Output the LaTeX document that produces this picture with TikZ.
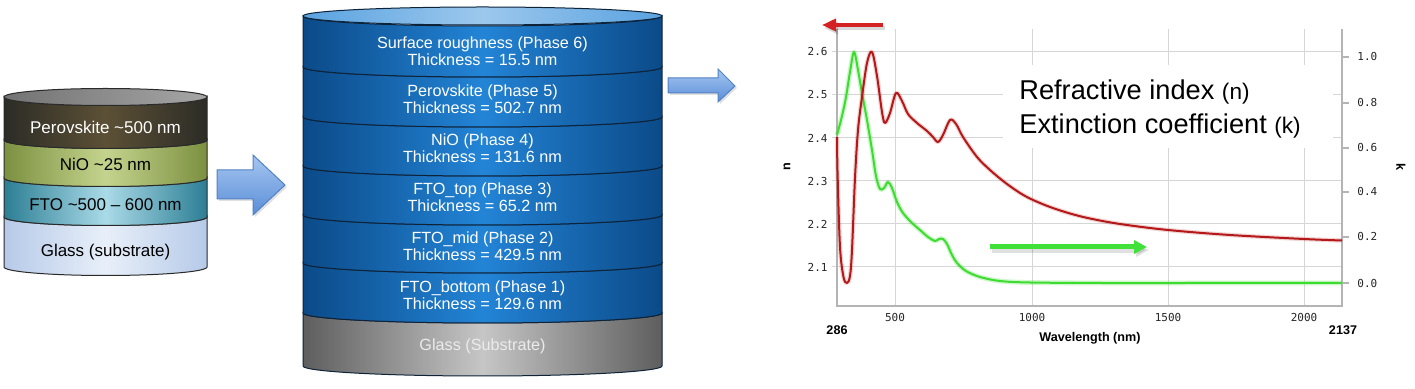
\documentclass[tikz,border=0pt]{standalone}
\usepackage{fontspec}
\setmainfont{Liberation Sans}
\newfontfamily\monof{DejaVu Sans Mono}
\usetikzlibrary{arrows.meta}
\definecolor{outlL}{HTML}{2A2A2A}
\definecolor{outlM}{HTML}{0E2238}
\definecolor{perE}{HTML}{2C2C26}
\definecolor{perC}{HTML}{5C5036}
\definecolor{nioE}{HTML}{7C9040}
\definecolor{nioC}{HTML}{C4D48E}
\definecolor{ftoE}{HTML}{2C7E94}
\definecolor{ftoC}{HTML}{AADAE8}
\definecolor{glaE}{HTML}{B6CAE8}
\definecolor{glaC}{HTML}{E8EFF9}
\definecolor{bluE}{HTML}{0B4A88}
\definecolor{bluC}{HTML}{2384D6}
\definecolor{gryE}{HTML}{5E5E5E}
\definecolor{gryC}{HTML}{C6C6C6}
\definecolor{arrT}{HTML}{A6C6F0}
\definecolor{arrB}{HTML}{5A8ED8}
\definecolor{arrO}{HTML}{5282C4}
\definecolor{gridc}{HTML}{D6D6D6}
\definecolor{axc}{HTML}{B4B4B4}
\definecolor{redc}{HTML}{B41818}
\definecolor{grnc}{HTML}{3EDC30}
\definecolor{redarr}{HTML}{D42222}
\definecolor{grnarr}{HTML}{40E23A}
\newcommand{\cyllayer}[8]{% #1 xl #2 xr #3 ytop #4 ybot #5 ry #6 edge #7 center #8 outline
  \pgfmathsetmacro\rxx{(#2-#1)/2}
  \path[left color=#6,right color=#6,middle color=#7,draw=#8,line width=0.5pt]
    (#1,#3) -- (#1,#4) arc[start angle=180,end angle=0,x radius=\rxx,y radius=#5]
    -- (#2,#3) arc[start angle=0,end angle=180,x radius=\rxx,y radius=#5] -- cycle;
}
\tikzset{
  lt/.style={font=\fontsize{8.5}{9}\selectfont,inner sep=0pt},
  mt/.style={font=\fontsize{8.1}{8.7}\selectfont,inner sep=0pt,align=center,text=white},
  blockarrow/.style={top color=arrT,bottom color=arrB,draw=arrO,line width=0.5pt},
  gridline/.style={draw=gridc,line width=0.5pt},
  axisline/.style={draw=axc,line width=0.6pt},
  ticklab/.style={font=\monof\fontsize{5.5}{6}\selectfont,inner sep=0pt,text=black!85},
  boldlab/.style={font=\bfseries\fontsize{6.3}{7}\selectfont,inner sep=0pt},
}
\begin{document}
\begin{tikzpicture}[x=0.5pt,y=-0.5pt]
\useasboundingbox[fill=white] (0,0) rectangle (1415,389);

% ---------- left cylinder ----------
\cyllayer{4}{207}{217}{267}{8.5}{glaE}{glaC}{outlL}
\cyllayer{4}{207}{178}{217}{8.5}{ftoE}{ftoC}{outlL}
\cyllayer{4}{207}{140}{178}{8.5}{nioE}{nioC}{outlL}
\cyllayer{4}{207}{97}{140}{8.5}{perE}{perC}{outlL}
\path[left color=black!55,right color=black!35,draw=outlL,line width=0.5pt]
  (105.5,97) ellipse[x radius=101.5,y radius=8.5];
\node[lt,text=white] (lper) at (105.5,127) {Perovskite \textasciitilde500 nm};
\node[lt] (lnio) at (105.5,164) {NiO \textasciitilde25 nm};
\node[lt] (lfto) at (105.5,205) {FTO \textasciitilde500 – 600 nm};
\node[lt] (lgla) at (105.5,252) {Glass (substrate)};

% ---------- arrow 1 ----------
\fill[black,opacity=0.12] (219,172) -- (255,172) -- (255,157) -- (287,187) -- (255,217) -- (255,201) -- (219,201) -- cycle;
\path[blockarrow] (217,170) -- (253,170) -- (253,155) -- (285,185) -- (253,215) -- (253,199) -- (217,199) -- cycle;

% ---------- middle cylinder ----------
\cyllayer{303}{662}{313}{366}{10}{gryE}{gryC}{outlM}
\cyllayer{303}{662}{263}{313}{10}{bluE}{bluC}{outlM}
\cyllayer{303}{662}{215}{263}{10}{bluE}{bluC}{outlM}
\cyllayer{303}{662}{166}{215}{10}{bluE}{bluC}{outlM}
\cyllayer{303}{662}{117}{166}{10}{bluE}{bluC}{outlM}
\cyllayer{303}{662}{67}{117}{10}{bluE}{bluC}{outlM}
\cyllayer{303}{662}{16}{67}{10}{bluE}{bluC}{outlM}
\path[left color=bluC!75!white,right color=bluC!75!white,middle color=bluC!45!white,draw=outlM,line width=0.5pt]
  (482.5,16) ellipse[x radius=179.5,y radius=9];
\node[mt] (m6) at (482.5,51) {Surface roughness (Phase 6)\\Thickness = 15.5 nm};
\node[mt] (m5) at (482.5,99.5) {Perovskite (Phase 5)\\Thickness = 502.7 nm};
\node[mt] (m4) at (482.5,148.5) {NiO (Phase 4)\\Thickness = 131.6 nm};
\node[mt] (m3) at (482.5,197.5) {FTO\_top (Phase 3)\\Thickness = 65.2 nm};
\node[mt] (m2) at (482.5,246.5) {FTO\_mid (Phase 2)\\Thickness = 429.5 nm};
\node[mt] (m1) at (482.5,295.5) {FTO\_bottom (Phase 1)\\Thickness = 129.6 nm};
\node[mt,text=black!8] (m0) at (482.5,346) {Glass (Substrate)};

% ---------- arrow 2 ----------
\fill[black,opacity=0.12] (670,80) -- (720,80) -- (720,71) -- (737,88) -- (720,104) -- (720,95) -- (670,95) -- cycle;
\path[blockarrow] (668,78) -- (718,78) -- (718,69) -- (735,86) -- (718,102) -- (718,93) -- (668,93) -- cycle;

% ---------- chart grid ----------
\foreach \gx in {895,1032,1168,1304} \draw[gridline] (\gx,29) -- (\gx,306);
\foreach \gy in {52,95,138,181,224,267} \draw[gridline] (832,\gy) -- (1342,\gy);
\draw[axisline] (837,29) -- (837,306) -- (1342,306) -- (1342,29);
\foreach \ky in {57,103,148,192,237,283} \draw[axisline] (1342,\ky) -- (1349,\ky);

% tick labels
\node[ticklab,anchor=east] (n26) at (828,52) {2.6};
\node[ticklab,anchor=east] (n25) at (828,95) {2.5};
\node[ticklab,anchor=east] (n24) at (828,138) {2.4};
\node[ticklab,anchor=east] (n23) at (828,181) {2.3};
\node[ticklab,anchor=east] (n22) at (828,224) {2.2};
\node[ticklab,anchor=east] (n21) at (828,267) {2.1};
\node[ticklab,anchor=west] (k10) at (1357,57) {1.0};
\node[ticklab,anchor=west] (k08) at (1357,103) {0.8};
\node[ticklab,anchor=west] (k06) at (1357,148) {0.6};
\node[ticklab,anchor=west] (k04) at (1357,192) {0.4};
\node[ticklab,anchor=west] (k02) at (1357,237) {0.2};
\node[ticklab,anchor=west] (k00) at (1357,283) {0.0};
\node[ticklab] (x500) at (895,317) {500};
\node[ticklab] (x1000) at (1032,317) {1000};
\node[ticklab] (x1500) at (1168,317) {1500};
\node[ticklab] (x2000) at (1304,317) {2000};
\node[boldlab] (xmin) at (837,330) {286};
\node[boldlab] (xmax) at (1343,330) {2137};
\node[boldlab] (xlab) at (1090,338) {Wavelength (nm)};
\node[boldlab,rotate=90] (nlab) at (787,167) {n};
\node[boldlab,rotate=-90] (klab) at (1401,167) {k};

% text box
\fill[white] (1003,65) rectangle (1333,148);
\node[inner sep=0pt,anchor=base west,font=\fontsize{13.6}{15}\selectfont] (t1) at (1019,100)
  {Refractive index {\fontsize{11.3}{12}\selectfont(n)}};
\node[inner sep=0pt,anchor=base west,font=\fontsize{13.6}{15}\selectfont] (t2) at (1019,134)
  {Extinction coefficient {\fontsize{11.3}{12}\selectfont(k)}};

% ---------- curves ----------
\def\greenpts{(837,135) (842,116) (846,97) (850,72) (854,52) (858,70) (862,93) (867,120) (872,150) (876,176) (880,189) (884,188) (888,182) (892,188) (897,202) (903,213) (912,223) (920,230) (928,237) (935,241) (939,239) (943,239) (947,244) (952,255) (957,263) (966,271) (980,277) (1000,281) (1030,282.5) (1100,283) (1200,283) (1342,283)}
\draw[grnc,opacity=0.25,line width=2.4pt,line join=round] plot[smooth,tension=0.55] coordinates {\greenpts};
\draw[grnc,line width=1pt,line join=round] plot[smooth,tension=0.55] coordinates {\greenpts};
\def\redpts{(837,137) (837.6,175) (840,247) (843.5,277) (847,283) (850,276) (852,250) (855,178) (858,130) (862,97) (867,63) (872,52) (877,76) (882,112) (885,123) (890,113) (896,93) (902,101) (908,114) (917,123) (927,131) (933,137) (938,142) (943,135) (950,120) (956,124) (963,137) (977,157) (990,170) (1005,182.5) (1020,193) (1032,199.5) (1050,207) (1070,213.5) (1090,218.5) (1120,224) (1168,230) (1230,235) (1304,239) (1342,240.5)}
\draw[redc,opacity=0.18,line width=2.2pt,line join=round] plot[smooth,tension=0.55] coordinates {\redpts};
\draw[redc,line width=1pt,line join=round] plot[smooth,tension=0.55] coordinates {\redpts};

% ---------- colored arrows ----------
\coordinate (ra1) at (883,25);
\coordinate (ra2) at (822,25);
\coordinate (ga1) at (990,247);
\coordinate (ga2) at (1147,247);
\draw[black,opacity=0.15,line width=2.4pt,-{Triangle[length=7pt,width=6pt]}] ([shift={(2,3)}]ra1) -- ([shift={(2,3)}]ra2);
\draw[redarr,line width=2.3pt,-{Triangle[length=7pt,width=6pt]}] (ra1) -- (ra2);
\draw[black,opacity=0.12,line width=2.6pt,-{Triangle[length=6.5pt,width=6.5pt]}] ([shift={(2,3)}]ga1) -- ([shift={(2,3)}]ga2);
\draw[grnarr,line width=2.5pt,-{Triangle[length=6.5pt,width=6.5pt]}] (ga1) -- (ga2);
\end{tikzpicture}
\end{document}
